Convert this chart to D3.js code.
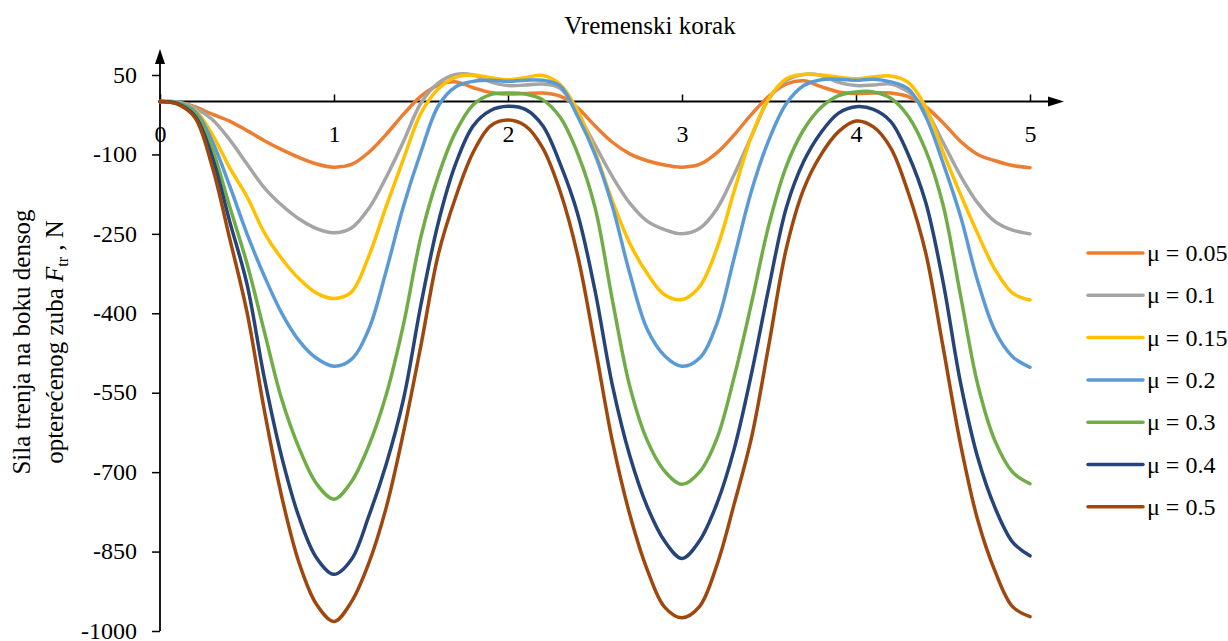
<!DOCTYPE html>
<html><head><meta charset="utf-8">
<script src="https://cdn.jsdelivr.net/npm/d3@7"></script>
<style>
body{margin:0;background:#fff}
svg text{font-family:"Liberation Serif","Times New Roman",serif;fill:#000}
</style>
</head><body>
<svg id="chart" width="1228" height="641" font-family="'Liberation Serif','Times New Roman',serif"></svg>
<script>
// ---- data ----
const xSteps = [0,0.1,0.2,0.3,0.4,0.5,0.6,0.7,0.8,0.9,1,1.1,1.2,1.3,1.4,1.5,1.6,1.7,1.8,1.9,2,
  2.1,2.2,2.3,2.4,2.5,2.6,2.7,2.8,2.9,3,3.1,3.2,3.3,3.4,3.5,3.6,3.7,3.8,3.9,4,
  4.1,4.2,4.3,4.4,4.5,4.6,4.7,4.8,4.9,5];
const seriesNames = ["μ = 0.05","μ = 0.1","μ = 0.15","μ = 0.2","μ = 0.3","μ = 0.4","μ = 0.5"];
const mu005 = [0,-1,-10,-24,-37,-55,-74,-91,-106,-118,-124,
  -119,-96,-62,-24,10,31,37,26,17,14,
  15,16,10,-12,-46,-77,-99,-112,-120,-124,
  -119,-97,-63,-24,10,33,39,28,18,15,
  16,16,9,-10,-40,-75,-100,-112,-121,-125];
const mu01 = [0,-1,-12,-34,-72,-118,-163,-196,-222,-240,-248,
  -239,-202,-143,-75,-3,35,51,50,37,30,
  31,33,25,-23,-82,-142,-192,-226,-242,-250,
  -240,-203,-138,-65,5,40,51,49,36,30,
  31,33,18,-16,-77,-140,-192,-227,-243,-250];
const mu015 = [0,-2,-16,-62,-125,-180,-248,-297,-335,-362,-372,
  -360,-292,-198,-108,-22,24,46,50,45,41,
  45,49,32,-17,-95,-188,-268,-325,-365,-374,
  -350,-278,-169,-65,6,43,51,50,46,43,
  46,48,36,-10,-95,-175,-250,-318,-362,-375];
const mu02 = [0,-2,-18,-75,-159,-250,-330,-400,-452,-485,-500,
  -487,-430,-320,-197,-95,-8,28,38,40,38,
  40,40,29,-28,-100,-198,-325,-430,-480,-500,
  -485,-420,-295,-168,-72,-4,30,41,42,40,
  42,37,24,-28,-116,-216,-340,-434,-482,-502];
const mu03 = [0,-3,-22,-90,-198,-306,-435,-563,-655,-722,-751,
  -718,-650,-554,-420,-255,-140,-57,-6,13,16,
  14,3,-30,-98,-200,-375,-538,-640,-698,-723,
  -700,-637,-520,-380,-232,-122,-53,-11,11,18,
  18,6,-28,-92,-195,-365,-535,-642,-700,-722];
const mu04 = [0,-4,-27,-105,-226,-345,-523,-672,-786,-862,-893,
  -865,-783,-685,-561,-383,-228,-117,-46,-17,-9,
  -15,-46,-118,-212,-357,-536,-669,-765,-830,-863,
  -830,-760,-656,-513,-350,-200,-113,-58,-22,-10,
  -15,-38,-100,-190,-340,-530,-673,-768,-832,-858];
const mu05 = [0,-5,-30,-123,-258,-398,-584,-747,-872,-950,-982,
  -945,-872,-767,-624,-460,-288,-180,-96,-46,-35,
  -46,-88,-170,-290,-462,-642,-780,-884,-955,-975,
  -954,-876,-760,-634,-458,-277,-165,-100,-57,-37,
  -48,-88,-172,-285,-463,-646,-791,-888,-954,-973];
const xTickValues = [0,1,2,3,4,5];
const yTickValues = [50,-100,-250,-400,-550,-700,-850,-1000];
const chartTitle = "Vremenski korak";

const allSeries = [mu005, mu01, mu015, mu02, mu03, mu04, mu05];
const colors = ["#ED7D31","#A5A5A5","#FFC000","#5B9BD5","#70AD47","#264478","#9E480E"];

// ---- drawing ----
const FONT = "'Liberation Serif','Times New Roman',serif";
const svg = d3.select("#chart");
const x = d3.scaleLinear().domain([0,5]).range([160,1030]);
const y = d3.scaleLinear().domain([-1000,50]).range([631,75]);

// title
svg.append("text").attr("x",650).attr("y",34).attr("text-anchor","middle")
  .attr("font-family",FONT).style("font-size","25px").text(chartTitle);

// y axis title
const yt = svg.append("g").attr("font-family",FONT);
yt.append("text").attr("transform","translate(30,342) rotate(-90)").attr("text-anchor","middle")
  .style("font-size","25px").text("Sila trenja na boku densog");
const t2 = yt.append("text").attr("transform","translate(63,342) rotate(-90)").attr("text-anchor","middle")
  .style("font-size","25px");
t2.append("tspan").text("opterećenog zuba ");
t2.append("tspan").style("font-style","italic").text("F");
t2.append("tspan").attr("dy",5).style("font-size","16px").text("tr");
t2.append("tspan").attr("dy",-5).text(" , N");

// y axis
const yAxis = d3.axisLeft(y).tickValues(yTickValues).tickSize(8).tickPadding(15).tickFormat(d => String(d));
const gy = svg.append("g").attr("transform","translate(160,0)").call(yAxis).attr("font-family",FONT);
gy.select(".domain").remove();
gy.selectAll(".tick line").attr("stroke","#000").attr("stroke-width",1.5);
gy.selectAll(".tick text").style("font-size","24px").attr("fill","#000").attr("dy","0.3em");

// x axis (ticks above, labels below)
const xAxis = d3.axisBottom(x).tickValues(xTickValues).tickSize(-7).tickPadding(23).tickFormat(d => String(d));
const gx = svg.append("g").attr("transform",`translate(0,${y(0)})`).call(xAxis).attr("font-family",FONT);
gx.select(".domain").remove();
gx.selectAll(".tick line").attr("stroke","#000").attr("stroke-width",1.5);
gx.selectAll(".tick text").style("font-size","24px").attr("fill","#000");

// axis lines with arrows
svg.append("line").attr("x1",x(0)).attr("x2",x(0)).attr("y1",y(-1000)).attr("y2",56)
  .attr("stroke","#000").attr("stroke-width",1.8);
svg.append("path").attr("d",`M${x(0)},49 L${x(0)-5},64 L${x(0)+5},64 Z`).attr("fill","#000");
svg.append("line").attr("x1",x(0)).attr("x2",1056).attr("y1",y(0)).attr("y2",y(0))
  .attr("stroke","#000").attr("stroke-width",1.8);
svg.append("path").attr("d",`M1064,${y(0)} L1048,${y(0)-5} L1048,${y(0)+5} Z`).attr("fill","#000");

// series
const line = d3.line().x((d,i)=>x(xSteps[i])).y(d=>y(d)).curve(d3.curveCatmullRom.alpha(0.5));
allSeries.forEach((s,k)=>{
  svg.append("path").datum(s).attr("d",line).attr("fill","none")
    .attr("stroke",colors[k]).attr("stroke-width",3.5).attr("stroke-linejoin","round").attr("stroke-linecap","round");
});

// legend
const lg = svg.append("g").attr("font-family",FONT);
seriesNames.forEach((n,k)=>{
  const ly = 253 + k*42.3;
  lg.append("line").attr("x1",1088).attr("x2",1143).attr("y1",ly).attr("y2",ly)
    .attr("stroke",colors[k]).attr("stroke-width",3.5).attr("stroke-linecap","round");
  lg.append("text").attr("x",1147).attr("y",ly+8).style("font-size","24px").text(n);
});
</script>
</body></html>
